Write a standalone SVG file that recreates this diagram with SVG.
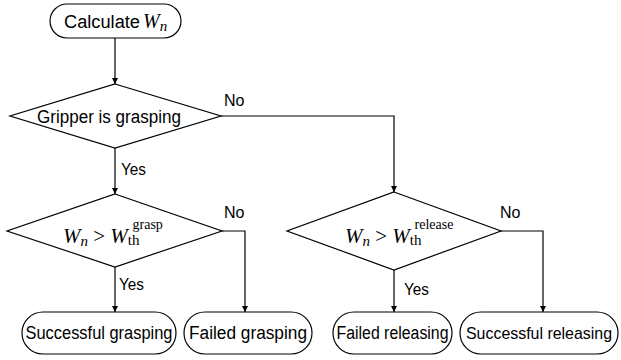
<svg xmlns="http://www.w3.org/2000/svg" width="621" height="360" viewBox="0 0 621 360">
<defs>
<marker id="arr" markerWidth="6" markerHeight="6" refX="6" refY="3" orient="auto" markerUnits="userSpaceOnUse">
<path d="M0,0 L6,3 L0,6 z" fill="#000"/>
</marker>
<style>
.shape{fill:#fff;stroke:#000;stroke-width:1.2}
.t{font-family:"Liberation Sans",Arial,sans-serif;font-size:18px;fill:#000}
.lbl{font-family:"Liberation Sans",Arial,sans-serif;font-size:16px;fill:#000}
.m{font-family:"Liberation Serif","Times New Roman",serif;fill:#000}
.i{font-style:italic}
.conn path{fill:none;stroke:#000;stroke-width:1.2;marker-end:url(#arr)}
</style>
</defs>
<rect width="621" height="360" fill="#fff"/>
<g class="conn" id="connectors">
<path d="M115,38 V84"/>
<path d="M115,148 V194"/>
<path d="M221,116 H394 V192"/>
<path d="M222,231 H245 V312"/>
<path d="M115,267 V312"/>
<path d="M394,270 V312"/>
<path d="M501,231 H543 V312"/>
</g>
<g id="labels">
<text class="lbl" x="224" y="106">No</text>
<text class="lbl" x="121" y="175" textLength="25" lengthAdjust="spacingAndGlyphs">Yes</text>
<text class="lbl" x="224" y="218">No</text>
<text class="lbl" x="119" y="290" textLength="25" lengthAdjust="spacingAndGlyphs">Yes</text>
<text class="lbl" x="500" y="218">No</text>
<text class="lbl" x="404" y="295" textLength="25" lengthAdjust="spacingAndGlyphs">Yes</text>
</g>
<g id="start">
<rect class="shape" x="50" y="4" width="131" height="34" rx="17"/>
<text class="t" x="64" y="28" textLength="76" lengthAdjust="spacingAndGlyphs">Calculate</text>
<text class="m i" x="143" y="28" font-size="20">W<tspan font-size="15" dy="3">n</tspan></text>
</g>
<g id="d1">
<polygon class="shape" points="115,84 221,116 115,148 10,116"/>
<text class="t" x="37" y="123" textLength="144" lengthAdjust="spacingAndGlyphs">Gripper is grasping</text>
</g>
<g id="d2">
<polygon class="shape" points="115,194 222,231 115,267 7,231"/>
<text class="m" x="63" y="243" font-size="21"><tspan class="i">W</tspan><tspan class="i" font-size="15" dy="3">n</tspan><tspan dy="-3"> &gt; </tspan><tspan class="i">W</tspan><tspan font-size="15" dy="2">th</tspan><tspan font-size="14" dx="-7" dy="-16">grasp</tspan></text>
</g>
<g id="d3">
<polygon class="shape" points="394,192 501,231 394,270 287,231"/>
<text class="m" x="345" y="243" font-size="21"><tspan class="i">W</tspan><tspan class="i" font-size="15" dy="3">n</tspan><tspan dy="-3"> &gt; </tspan><tspan class="i">W</tspan><tspan font-size="15" dy="2">th</tspan><tspan font-size="14" dx="-7" dy="-16">release</tspan></text>
</g>
<g id="n1">
<rect class="shape" x="22" y="312" width="154" height="42" rx="21"/>
<text class="t" x="99" y="339" text-anchor="middle" textLength="147" lengthAdjust="spacingAndGlyphs">Successful grasping</text>
</g>
<g id="n2">
<rect class="shape" x="184" y="312" width="128" height="42" rx="21"/>
<text class="t" x="248" y="339" text-anchor="middle" textLength="118" lengthAdjust="spacingAndGlyphs">Failed grasping</text>
</g>
<g id="n3">
<rect class="shape" x="333" y="312" width="119" height="42" rx="21"/>
<text class="t" x="392.5" y="339" text-anchor="middle" textLength="112" lengthAdjust="spacingAndGlyphs">Failed releasing</text>
</g>
<g id="n4">
<rect class="shape" x="460" y="312" width="158" height="42" rx="21"/>
<text class="t" x="539" y="339" text-anchor="middle" font-size="17" style="font-size:17px" textLength="146" lengthAdjust="spacingAndGlyphs">Successful releasing</text>
</g>
</svg>
